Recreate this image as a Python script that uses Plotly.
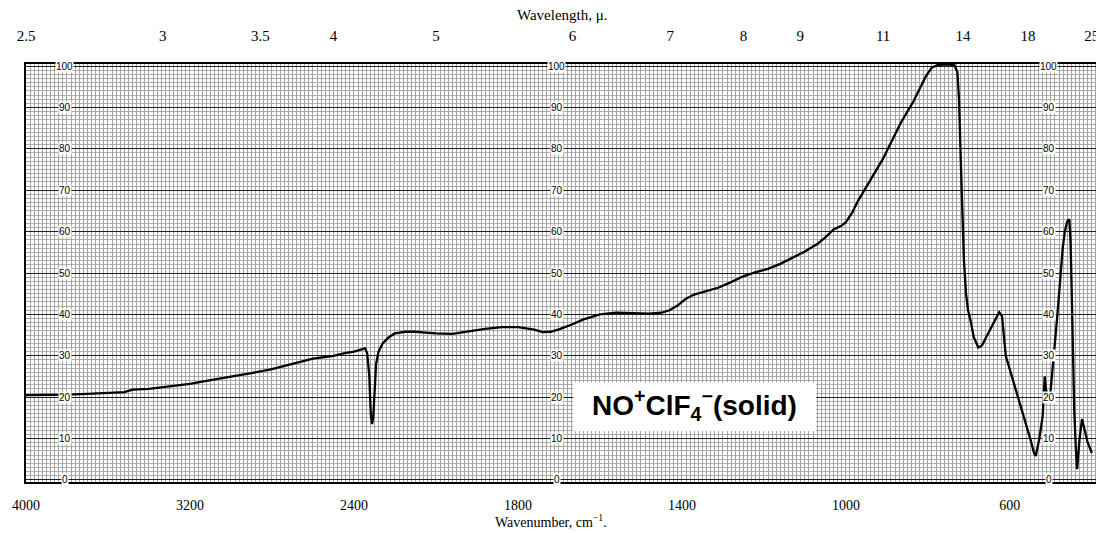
import numpy as np
import plotly.graph_objects as go

# ---------------- data ----------------
wavenumber = [4000, 3900, 3800, 3700, 3600, 3520, 3480, 3400, 3300, 3200, 3100, 3000,
              2900, 2800, 2700, 2600, 2500, 2450, 2400, 2360, 2345, 2335, 2325, 2318,
              2312, 2306, 2300, 2292, 2280, 2260, 2230, 2200, 2150, 2100, 2050, 2000,
              1960, 1920, 1880, 1840, 1800, 1760, 1740, 1720, 1700, 1670, 1640, 1600,
              1560, 1520, 1480, 1450, 1430, 1410, 1390, 1370, 1340, 1310, 1280, 1250,
              1220, 1190, 1160, 1130, 1100, 1070, 1050, 1030, 1010, 1000, 985, 970,
              955, 940, 925, 910, 895, 880, 865, 850, 835, 820, 805, 790, 775, 750,
              735, 728, 724, 720, 716, 712, 707, 702, 696, 688, 677, 668, 655, 640,
              626, 619, 614, 610, 598, 586, 574, 561, 549, 541, 537, 528, 520, 517,
              515, 512, 508, 503, 498, 492, 484, 476, 471, 466, 460, 455, 452, 449,
              447, 443, 439, 436, 434, 430, 424, 418, 410, 400]
transmittance = [20.5, 20.5, 20.6, 20.8, 21.0, 21.2, 21.8, 22.0, 22.6, 23.2, 24.1, 24.9,
                 25.8, 26.8, 28.0, 29.3, 30.0, 30.6, 31.0, 31.5, 31.8, 30.5, 25.0, 16.0,
                 13.5, 15.0, 22.0, 28.0, 31.0, 33.0, 34.5, 35.4, 35.8, 35.8, 35.6, 35.4,
                 35.3, 35.9, 36.5, 36.9, 36.9, 36.3, 35.7, 35.8, 36.4, 37.5, 38.8, 40.0,
                 40.4, 40.3, 40.2, 40.4, 41.0, 42.2, 43.8, 44.8, 45.6, 46.5, 47.8, 49.2,
                 50.2, 51.0, 52.2, 53.6, 55.2, 57.0, 58.6, 60.5, 61.5, 62.3, 64.5, 67.5,
                 70.0, 72.5, 75.0, 77.5, 80.5, 83.5, 86.5, 89.0, 91.5, 94.5, 97.5, 99.7, 100.3, 100.4,
                 100.2, 98.5, 92.0, 78.0, 64.0, 53.0, 45.0, 41.0, 38.5, 34.5, 32.0, 32.5, 35.0, 38.0,
                 40.5, 39.5, 35.0, 30.0, 26.0, 22.0, 18.0, 14.0, 9.5, 6.5, 5.8, 10.0, 15.4, 21.0,
                 25.0, 22.0, 20.0, 19.0, 24.0, 31.0, 40.0, 50.0, 56.0, 60.0, 62.5, 63.0, 58.0, 45.0,
                 32.0, 17.0, 7.5, 2.6, 5.0, 10.0, 14.7, 12.0, 9.0, 6.5]

bottom_ticks = [4000, 3200, 2400, 1800, 1400, 1000, 600]
bottom_tick_labels = ["4000", "3200", "2400", "1800", "1400", "1000", "600"]
top_ticks_um = [2.5, 3, 3.5, 4, 5, 6, 7, 8, 9, 11, 14, 18, 25]
top_tick_labels = ["2.5", "3", "3.5", "4", "5", "6", "7", "8", "9", "11", "14", "18", "25"]
percent_labels = [0, 10, 20, 30, 40, 50, 60, 70, 80, 90, 100]


# chart paper: linear in wavenumber, with a 2x scale change at 2000 cm-1
def chart_u(wn):
    wn = np.asarray(wn, dtype=float)
    return np.where(wn >= 2000, 4000 - wn, 2000 + 2 * (2000 - wn))


U_END = float(chart_u(400))
X_RANGE = [0, U_END + 30]
LABEL_COLUMNS = [190, 2590, 4990]  # chart-paper columns where % values are printed

SERIF = "Liberation Serif, DejaVu Serif, serif"
SANS = "Liberation Sans, Arial, sans-serif"

fig = go.Figure()
fig.add_trace(go.Scatter(
    x=chart_u(wavenumber), y=transmittance, mode="lines",
    line=dict(color="black", width=2.3), hoverinfo="skip", showlegend=False,
    xaxis="x", yaxis="y"))
# invisible trace to activate the top (wavelength) axis
fig.add_trace(go.Scatter(
    x=X_RANGE, y=[None, None], mode="lines", showlegend=False,
    xaxis="x2", yaxis="y", hoverinfo="skip"))

# the page body adds an 8px margin, so the figure is sized to fit the window
fig.update_layout(
    width=1096, height=525,
    margin=dict(l=10, r=4, t=56, b=51),
    paper_bgcolor="white", plot_bgcolor="white",
    showlegend=False,
    xaxis=dict(
        range=X_RANGE, tickmode="array",
        tickvals=chart_u(bottom_ticks), ticktext=bottom_tick_labels,
        showgrid=False, zeroline=False, ticks="",
        ticklabelstandoff=9, ticklabeloverflow="allow",
        showline=True, mirror=True, linecolor="black", linewidth=1.5,
        tickfont=dict(family=SERIF, size=14, color="black"),
        minor=dict(tickmode="linear", tick0=0, dtick=100, showgrid=True,
                   gridcolor="#333333", gridwidth=1, ticks=""),
    ),
    xaxis2=dict(
        overlaying="x", side="top", range=X_RANGE, tickmode="array",
        tickvals=chart_u(10000.0 / np.array(top_ticks_um)), ticktext=top_tick_labels,
        showgrid=False, zeroline=False, ticks="", ticklabelstandoff=19,
        ticklabeloverflow="allow",
        tickfont=dict(family=SERIF, size=15, color="black"),
        minor=dict(tickmode="linear", tick0=0, dtick=20, showgrid=True,
                   gridcolor="#a4a4a4", gridwidth=1, ticks=""),
    ),
    yaxis=dict(
        range=[-0.5, 100.5], tickmode="linear", tick0=0, dtick=10,
        showgrid=True, gridcolor="#1e1e1e", gridwidth=1.2, zeroline=False,
        showticklabels=False, ticks="",
        showline=True, mirror=True, linecolor="black", linewidth=1.5,
        minor=dict(tickmode="linear", tick0=0, dtick=1, showgrid=True,
                   gridcolor="#adadad", gridwidth=1, ticks=""),
    ),
)

annotations = []
for col in LABEL_COLUMNS:
    for p in percent_labels:
        annotations.append(dict(
            x=col, y=p, xref="x", yref="y", text=str(p), showarrow=False,
            font=dict(family=SANS, size=10, color="black"),
            bgcolor="white", borderpad=0, xanchor="center", yanchor="middle"))

# axis titles
annotations.append(dict(
    x=0.5, y=1.117, xref="paper", yref="paper", text="Wavelength, \u03bc.",
    showarrow=False, font=dict(family=SERIF, size=15, color="black"),
    xanchor="center", yanchor="middle"))
annotations.append(dict(
    x=0.49, y=-0.093, xref="paper", yref="paper", text="Wavenumber, cm<sup>\u22121</sup>.",
    showarrow=False, font=dict(family=SERIF, size=14, color="black"),
    xanchor="center", yanchor="middle"))

box_x = [2670, 3855]
box_y = [11.8, 23.6]
fig.add_shape(type="rect", xref="x", yref="y", x0=box_x[0], x1=box_x[1],
              y0=box_y[0], y1=box_y[1], fillcolor="white", line=dict(width=0),
              layer="above")
annotations.append(dict(
    x=sum(box_x) / 2, y=sum(box_y) / 2 + 0.3, xref="x", yref="y",
    text="<b>NO<sup>+</sup>ClF<sub>4</sub><sup>\u2212</sup>(solid)</b>",
    showarrow=False, font=dict(family=SANS, size=28, color="black"),
    xanchor="center", yanchor="middle"))
fig.update_layout(annotations=annotations)

fig.write_html("out.html")
